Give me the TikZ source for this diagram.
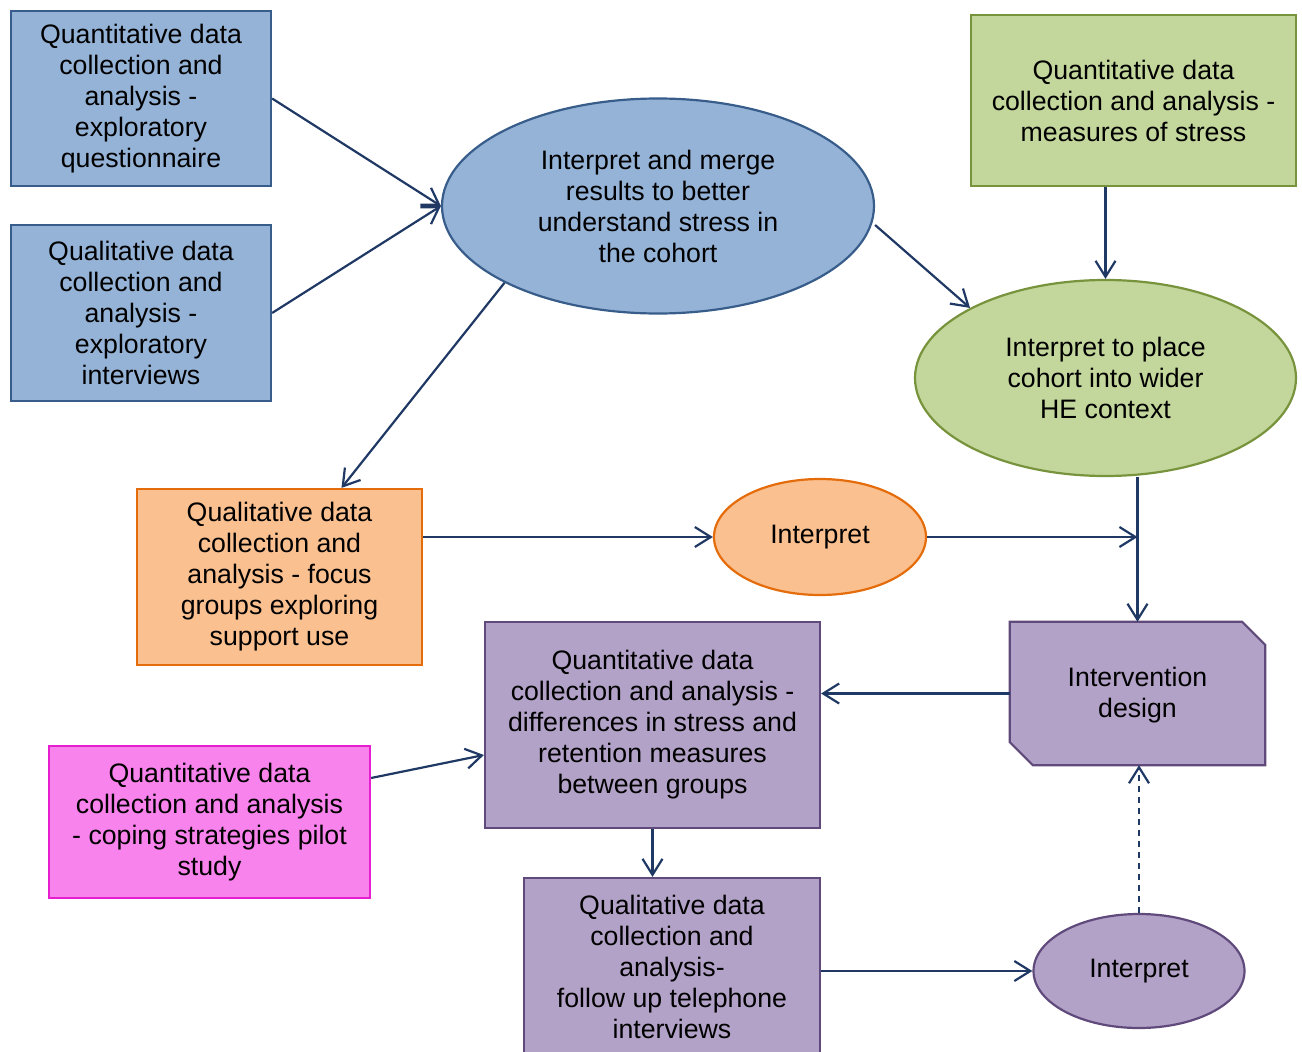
\documentclass[tikz,border=0pt]{standalone}
\usepackage{fontspec}
\setmainfont{Liberation Sans}
\usetikzlibrary{shapes.geometric,arrows.meta}

\definecolor{bluefill}{HTML}{95B3D7}
\definecolor{blueline}{HTML}{385D8A}
\definecolor{greenfill}{HTML}{C3D69B}
\definecolor{greenline}{HTML}{77933C}
\definecolor{orangefill}{HTML}{FAC090}
\definecolor{orangeline}{HTML}{E46C0A}
\definecolor{purplefill}{HTML}{B3A2C7}
\definecolor{purpleline}{HTML}{604A7B}
\definecolor{pinkfill}{HTML}{F883EC}
\definecolor{pinkline}{HTML}{E61ECF}
\definecolor{navy}{HTML}{1F3864}

\tikzset{
  txt/.style={align=center, font=\fontsize{26.7}{31}\selectfont, inner sep=0pt},
  box/.style={txt, rectangle, line width=2.2pt},
  oval/.style={txt, ellipse, line width=2.2pt},
  bluebox/.style={box, fill=bluefill, draw=blueline},
  greenbox/.style={box, fill=greenfill, draw=greenline},
  orangebox/.style={box, fill=orangefill, draw=orangeline},
  purplebox/.style={box, fill=purplefill, draw=purpleline},
  pinkbox/.style={box, fill=pinkfill, draw=pinkline},
  flow/.style={draw=navy, line width=2.2pt,
    -{Straight Barb[length=16pt, width=20pt, line width=2.2pt]}}
}

\begin{document}
\begin{tikzpicture}[x=1pt, y=-1pt]
\path[use as bounding box] (0,0) rectangle (1302,1052);
\clip (0,0) rectangle (1302,1052);

% exploratory phase
\node[bluebox, minimum width=260, minimum height=175] (A) at (141,98.5)
  {Quantitative data\\collection and\\analysis -\\exploratory\\questionnaire};
\node[bluebox, minimum width=260, minimum height=176] (B) at (141,313)
  {Qualitative data\\collection and\\analysis -\\exploratory\\interviews};
\node[oval, fill=bluefill, draw=blueline, minimum width=432, minimum height=215] (E1) at (658,206)
  {Interpret and merge\\results to better\\understand stress in\\the cohort};

% stress measures
\node[greenbox, minimum width=325, minimum height=171] (C) at (1133.5,100.5)
  {Quantitative data\\collection and analysis -\\measures of stress};
\node[oval, fill=greenfill, draw=greenline, minimum width=381, minimum height=196] (E2) at (1105.5,378)
  {Interpret to place\\cohort into wider\\HE context};

% focus groups
\node[orangebox, minimum width=285, minimum height=176] (D) at (279.5,577)
  {Qualitative data\\collection and\\analysis - focus\\groups exploring\\support use};
\node[oval, fill=orangefill, draw=orangeline, minimum width=212, minimum height=116] (E3) at (820,537)
  {Interpret};

% intervention (snipped corners)
\node[txt, minimum width=255, minimum height=143] (I) at (1137.5,693.5) {};
\fill[purplefill, draw=purpleline, line width=2.2pt]
  (I.north west) -- ([xshift=-23pt]I.north east) -- ([yshift=-23pt]I.north east)
  -- (I.south east) -- ([xshift=23pt]I.south west) -- ([yshift=23pt]I.south west) -- cycle;
\node[txt] at ([yshift=-2pt]I.center) {Intervention\\design};

% evaluation phase
\node[purplebox, minimum width=335, minimum height=206] (F) at (652.5,725)
  {Quantitative data\\collection and analysis -\\differences in stress and\\retention measures\\between groups};
\node[pinkbox, minimum width=321, minimum height=152] (G) at (209.5,822)
  {Quantitative data\\collection and analysis\\- coping strategies pilot\\study};
\node[purplebox, minimum width=296, minimum height=178] (H) at (672,967)
  {Qualitative data\\collection and\\analysis-\\follow up telephone\\interviews};
\node[oval, fill=purplefill, draw=purpleline, minimum width=211, minimum height=114] (E4) at (1139,971)
  {Interpret};

% connectors
\draw[flow] (A.east) -- (E1.west);
\draw[flow] (B.east) -- (E1.west);
\draw[flow] (E1.south west) -- ([xshift=62pt]D.north);
\draw[flow] ([yshift=-19pt]E1.east) -- (E2.north west);
\draw[flow] (C.south -| E2.north) -- (E2.north);
\draw[flow] (D.east |- E3.west) -- (E3.west);
\coordinate (J) at (I.north |- E3.east);
\draw[flow] (E3.east) -- (J);
\draw[flow] (I.north |- E2.south) -- (I.north);
\draw[flow] (I.west) -- (F.east |- I.west);
\draw[flow] ([yshift=44pt]G.east) -- ([yshift=-30pt]F.west);
\draw[flow] (F.south) -- (F.south |- H.north);
\draw[flow] (H.east |- E4.west) -- (E4.west);
\draw[flow, dash pattern=on 6pt off 5pt] (E4.north) -- (E4.north |- I.south);
\end{tikzpicture}
\end{document}
